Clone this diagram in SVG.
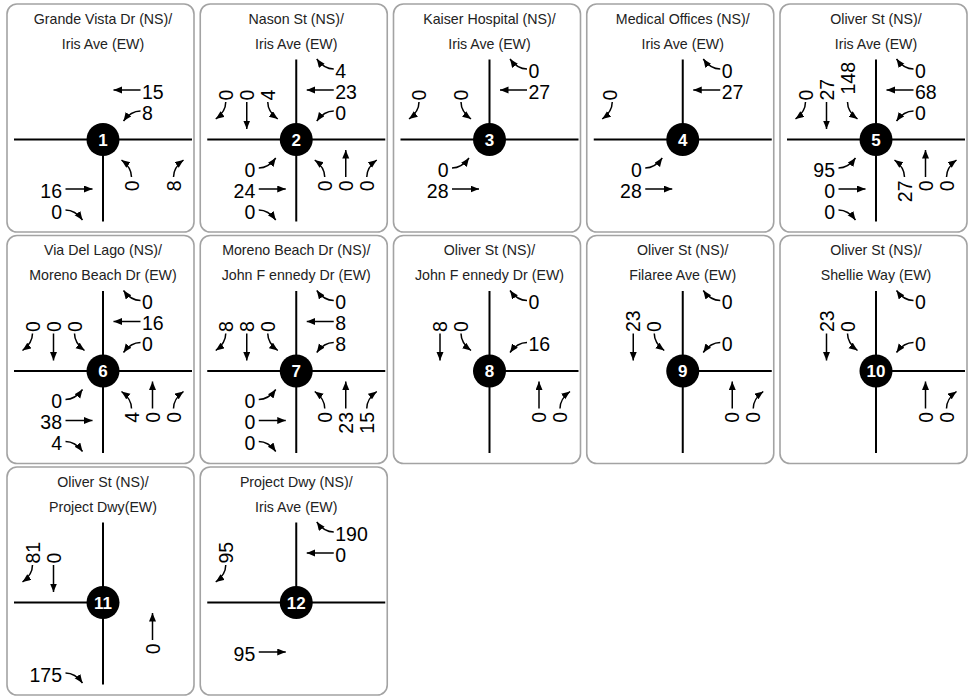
<svg xmlns="http://www.w3.org/2000/svg" width="968" height="696" viewBox="0 0 968 696">
  <style>
    .frame { fill: #fff; stroke: #a3a3a3; stroke-width: 1.6; }
    .road { fill: none; stroke: #000; stroke-width: 2; }
    .mv { fill: none; stroke: #000; stroke-width: 1.5; marker-end: url(#head); }
    .dot { fill: #000; }
    .num { font: bold 17px "Liberation Sans", Arial, sans-serif; fill: #fff; text-anchor: middle; }
    .ttl { font: 14.2px "Liberation Sans", Arial, sans-serif; fill: #222; text-anchor: middle; }
    .v { font: 19.5px "Liberation Sans", Arial, sans-serif; fill: #000; }
    .e { text-anchor: end; }
  </style>
  <defs>
    <marker id="head" markerUnits="userSpaceOnUse" markerWidth="10" markerHeight="8" refX="8.5" refY="3.5" orient="auto">
      <path d="M0,0 L8.5,3.5 L0,7 z" fill="#000"/>
    </marker>
    <!-- westbound movements, relative to the intersection centre; other approaches are rotations -->
    <path id="aR" class="mv" d="M37.5,-70.5 C31,-70.5 26,-73 20.5,-80.5"/>
    <path id="aT" class="mv" d="M37.5,-49.5 H10.5"/>
    <path id="aL" class="mv" d="M37.5,-28.5 C31,-28.5 26,-26 20.5,-18.5"/>
  </defs>

  <!-- 1 -->
  <g id="int1" transform="translate(7,4)">
    <rect class="frame" x="0" y="0" width="187" height="228" rx="10"/>
    <text class="ttl" x="96" y="19.5">Grande Vista Dr (NS)/</text>
    <text class="ttl" x="96" y="44.5">Iris Ave (EW)</text>
    <g transform="translate(96,135.5)">
      <path class="road" d="M-89,0 H89 M0,0 V82"/>
      <use href="#aT"/><use href="#aL"/>
      <use href="#aT" transform="rotate(180)"/><use href="#aR" transform="rotate(180)"/>
      <use href="#aL" transform="rotate(90)"/><use href="#aR" transform="rotate(90)"/>
      <text class="v" x="39" y="-41">15</text>
      <text class="v" x="39" y="-20">8</text>
      <text class="v e" x="-41" y="58">16</text>
      <text class="v e" x="-41" y="79">0</text>
      <text class="v e" transform="translate(35.5,41) rotate(-90)">0</text>
      <text class="v e" transform="translate(77.5,41) rotate(-90)">8</text>
      <circle class="dot" r="16.5"/>
      <text class="num" y="6">1</text>
    </g>
  </g>

  <!-- 2 -->
  <g id="int2" transform="translate(200.25,4)">
    <rect class="frame" x="0" y="0" width="187" height="228" rx="10"/>
    <text class="ttl" x="96" y="19.5">Nason St (NS)/</text>
    <text class="ttl" x="96" y="44.5">Iris Ave (EW)</text>
    <g transform="translate(96,135.5)">
      <path class="road" d="M-89,0 H89 M0,-80 V82"/>
      <use href="#aR"/><use href="#aT"/><use href="#aL"/>
      <use href="#aR" transform="rotate(-90)"/><use href="#aT" transform="rotate(-90)"/><use href="#aL" transform="rotate(-90)"/>
      <use href="#aR" transform="rotate(180)"/><use href="#aT" transform="rotate(180)"/><use href="#aL" transform="rotate(180)"/>
      <use href="#aR" transform="rotate(90)"/><use href="#aT" transform="rotate(90)"/><use href="#aL" transform="rotate(90)"/>
      <text class="v" x="39" y="-62">4</text>
      <text class="v" x="39" y="-41">23</text>
      <text class="v" x="39" y="-20">0</text>
      <text class="v" transform="translate(-63.5,-39) rotate(-90)">0</text>
      <text class="v" transform="translate(-42.5,-39) rotate(-90)">0</text>
      <text class="v" transform="translate(-21.5,-39) rotate(-90)">4</text>
      <text class="v e" x="-41" y="37">0</text>
      <text class="v e" x="-41" y="58">24</text>
      <text class="v e" x="-41" y="79">0</text>
      <text class="v e" transform="translate(35.5,41) rotate(-90)">0</text>
      <text class="v e" transform="translate(56.5,41) rotate(-90)">0</text>
      <text class="v e" transform="translate(77.5,41) rotate(-90)">0</text>
      <circle class="dot" r="16.5"/>
      <text class="num" y="6">2</text>
    </g>
  </g>

  <!-- 3 -->
  <g id="int3" transform="translate(393.5,4)">
    <rect class="frame" x="0" y="0" width="187" height="228" rx="10"/>
    <text class="ttl" x="96" y="19.5">Kaiser Hospital (NS)/</text>
    <text class="ttl" x="96" y="44.5">Iris Ave (EW)</text>
    <g transform="translate(96,135.5)">
      <path class="road" d="M-89,0 H89 M0,-80 V0"/>
      <use href="#aR"/><use href="#aT"/>
      <use href="#aR" transform="rotate(-90)"/><use href="#aL" transform="rotate(-90)"/>
      <use href="#aL" transform="rotate(180)"/><use href="#aT" transform="rotate(180)"/>
      <text class="v" x="39" y="-62">0</text>
      <text class="v" x="39" y="-41">27</text>
      <text class="v" transform="translate(-63.5,-39) rotate(-90)">0</text>
      <text class="v" transform="translate(-21.5,-39) rotate(-90)">0</text>
      <text class="v e" x="-41" y="37">0</text>
      <text class="v e" x="-41" y="58">28</text>
      <circle class="dot" r="16.5"/>
      <text class="num" y="6">3</text>
    </g>
  </g>

  <!-- 4 -->
  <g id="int4" transform="translate(586.75,4)">
    <rect class="frame" x="0" y="0" width="187" height="228" rx="10"/>
    <text class="ttl" x="96" y="19.5">Medical Offices (NS)/</text>
    <text class="ttl" x="96" y="44.5">Iris Ave (EW)</text>
    <g transform="translate(96,135.5)">
      <path class="road" d="M-89,0 H89 M0,-80 V0"/>
      <use href="#aR"/><use href="#aT"/>
      <use href="#aR" transform="rotate(-90)"/>
      <use href="#aL" transform="rotate(180)"/><use href="#aT" transform="rotate(180)"/>
      <text class="v" x="39" y="-62">0</text>
      <text class="v" x="39" y="-41">27</text>
      <text class="v" transform="translate(-65.5,-39) rotate(-90)">0</text>
      <text class="v e" x="-41" y="37">0</text>
      <text class="v e" x="-41" y="58">28</text>
      <circle class="dot" r="16.5"/>
      <text class="num" y="6">4</text>
    </g>
  </g>

  <!-- 5 -->
  <g id="int5" transform="translate(780,4)">
    <rect class="frame" x="0" y="0" width="187" height="228" rx="10"/>
    <text class="ttl" x="96" y="19.5">Oliver St (NS)/</text>
    <text class="ttl" x="96" y="44.5">Iris Ave (EW)</text>
    <g transform="translate(96,135.5)">
      <path class="road" d="M-89,0 H89 M0,-80 V82"/>
      <use href="#aR"/><use href="#aT"/><use href="#aL"/>
      <use href="#aR" transform="rotate(-90)"/><use href="#aT" transform="rotate(-90)"/><use href="#aL" transform="rotate(-90)"/>
      <use href="#aR" transform="rotate(180)"/><use href="#aT" transform="rotate(180)"/><use href="#aL" transform="rotate(180)"/>
      <use href="#aR" transform="rotate(90)"/><use href="#aT" transform="rotate(90)"/><use href="#aL" transform="rotate(90)"/>
      <text class="v" x="39" y="-62">0</text>
      <text class="v" x="39" y="-41">68</text>
      <text class="v" x="39" y="-20">0</text>
      <text class="v" transform="translate(-63.5,-39) rotate(-90)">0</text>
      <text class="v" transform="translate(-42.5,-39) rotate(-90)">27</text>
      <text class="v" transform="translate(-21.5,-45) rotate(-90)">148</text>
      <text class="v e" x="-41" y="37">95</text>
      <text class="v e" x="-41" y="58">0</text>
      <text class="v e" x="-41" y="79">0</text>
      <text class="v e" transform="translate(35.5,41) rotate(-90)">27</text>
      <text class="v e" transform="translate(56.5,41) rotate(-90)">0</text>
      <text class="v e" transform="translate(77.5,41) rotate(-90)">0</text>
      <circle class="dot" r="16.5"/>
      <text class="num" y="6">5</text>
    </g>
  </g>

  <!-- 6 -->
  <g id="int6" transform="translate(7,235.5)">
    <rect class="frame" x="0" y="0" width="187" height="228" rx="10"/>
    <text class="ttl" x="96" y="19.5">Via Del Lago (NS)/</text>
    <text class="ttl" x="96" y="44.5">Moreno Beach Dr (EW)</text>
    <g transform="translate(96,135.5)">
      <path class="road" d="M-89,0 H89 M0,-80 V82"/>
      <use href="#aR"/><use href="#aT"/><use href="#aL"/>
      <use href="#aR" transform="rotate(-90)"/><use href="#aT" transform="rotate(-90)"/><use href="#aL" transform="rotate(-90)"/>
      <use href="#aR" transform="rotate(180)"/><use href="#aT" transform="rotate(180)"/><use href="#aL" transform="rotate(180)"/>
      <use href="#aR" transform="rotate(90)"/><use href="#aT" transform="rotate(90)"/><use href="#aL" transform="rotate(90)"/>
      <text class="v" x="39" y="-62">0</text>
      <text class="v" x="39" y="-41">16</text>
      <text class="v" x="39" y="-20">0</text>
      <text class="v" transform="translate(-63.5,-39) rotate(-90)">0</text>
      <text class="v" transform="translate(-42.5,-39) rotate(-90)">0</text>
      <text class="v" transform="translate(-21.5,-39) rotate(-90)">0</text>
      <text class="v e" x="-41" y="37">0</text>
      <text class="v e" x="-41" y="58">38</text>
      <text class="v e" x="-41" y="79">4</text>
      <text class="v e" transform="translate(35.5,41) rotate(-90)">4</text>
      <text class="v e" transform="translate(56.5,41) rotate(-90)">0</text>
      <text class="v e" transform="translate(77.5,41) rotate(-90)">0</text>
      <circle class="dot" r="16.5"/>
      <text class="num" y="6">6</text>
    </g>
  </g>

  <!-- 7 -->
  <g id="int7" transform="translate(200.25,235.5)">
    <rect class="frame" x="0" y="0" width="187" height="228" rx="10"/>
    <text class="ttl" x="96" y="19.5">Moreno Beach Dr (NS)/</text>
    <text class="ttl" x="96" y="44.5">John F ennedy Dr (EW)</text>
    <g transform="translate(96,135.5)">
      <path class="road" d="M-89,0 H89 M0,-80 V82"/>
      <use href="#aR"/><use href="#aT"/><use href="#aL"/>
      <use href="#aR" transform="rotate(-90)"/><use href="#aT" transform="rotate(-90)"/><use href="#aL" transform="rotate(-90)"/>
      <use href="#aR" transform="rotate(180)"/><use href="#aT" transform="rotate(180)"/><use href="#aL" transform="rotate(180)"/>
      <use href="#aR" transform="rotate(90)"/><use href="#aT" transform="rotate(90)"/><use href="#aL" transform="rotate(90)"/>
      <text class="v" x="39" y="-62">0</text>
      <text class="v" x="39" y="-41">8</text>
      <text class="v" x="39" y="-20">8</text>
      <text class="v" transform="translate(-63.5,-39) rotate(-90)">8</text>
      <text class="v" transform="translate(-42.5,-39) rotate(-90)">8</text>
      <text class="v" transform="translate(-21.5,-39) rotate(-90)">0</text>
      <text class="v e" x="-41" y="37">0</text>
      <text class="v e" x="-41" y="58">0</text>
      <text class="v e" x="-41" y="79">0</text>
      <text class="v e" transform="translate(35.5,41) rotate(-90)">0</text>
      <text class="v e" transform="translate(56.5,41) rotate(-90)">23</text>
      <text class="v e" transform="translate(77.5,41) rotate(-90)">15</text>
      <circle class="dot" r="16.5"/>
      <text class="num" y="6">7</text>
    </g>
  </g>

  <!-- 8 -->
  <g id="int8" transform="translate(393.5,235.5)">
    <rect class="frame" x="0" y="0" width="187" height="228" rx="10"/>
    <text class="ttl" x="96" y="19.5">Oliver St (NS)/</text>
    <text class="ttl" x="96" y="44.5">John F ennedy Dr (EW)</text>
    <g transform="translate(96,135.5)">
      <path class="road" d="M0,0 H89 M0,-80 V82"/>
      <use href="#aR"/><use href="#aL"/>
      <use href="#aT" transform="rotate(-90)"/><use href="#aL" transform="rotate(-90)"/>
      <use href="#aT" transform="rotate(90)"/><use href="#aR" transform="rotate(90)"/>
      <text class="v" x="39" y="-62">0</text>
      <text class="v" x="39" y="-20">16</text>
      <text class="v" transform="translate(-42.5,-39) rotate(-90)">8</text>
      <text class="v" transform="translate(-21.5,-39) rotate(-90)">0</text>
      <text class="v e" transform="translate(56.5,41) rotate(-90)">0</text>
      <text class="v e" transform="translate(77.5,41) rotate(-90)">0</text>
      <circle class="dot" r="16.5"/>
      <text class="num" y="6">8</text>
    </g>
  </g>

  <!-- 9 -->
  <g id="int9" transform="translate(586.75,235.5)">
    <rect class="frame" x="0" y="0" width="187" height="228" rx="10"/>
    <text class="ttl" x="96" y="19.5">Oliver St (NS)/</text>
    <text class="ttl" x="96" y="44.5">Filaree Ave (EW)</text>
    <g transform="translate(96,135.5)">
      <path class="road" d="M0,0 H89 M0,-80 V82"/>
      <use href="#aR"/><use href="#aL"/>
      <use href="#aT" transform="rotate(-90)"/><use href="#aL" transform="rotate(-90)"/>
      <use href="#aT" transform="rotate(90)"/><use href="#aR" transform="rotate(90)"/>
      <text class="v" x="39" y="-62">0</text>
      <text class="v" x="39" y="-20">0</text>
      <text class="v" transform="translate(-42.5,-39) rotate(-90)">23</text>
      <text class="v" transform="translate(-21.5,-39) rotate(-90)">0</text>
      <text class="v e" transform="translate(56.5,41) rotate(-90)">0</text>
      <text class="v e" transform="translate(77.5,41) rotate(-90)">0</text>
      <circle class="dot" r="16.5"/>
      <text class="num" y="6">9</text>
    </g>
  </g>

  <!-- 10 -->
  <g id="int10" transform="translate(780,235.5)">
    <rect class="frame" x="0" y="0" width="187" height="228" rx="10"/>
    <text class="ttl" x="96" y="19.5">Oliver St (NS)/</text>
    <text class="ttl" x="96" y="44.5">Shellie Way (EW)</text>
    <g transform="translate(96,135.5)">
      <path class="road" d="M0,0 H89 M0,-80 V82"/>
      <use href="#aR"/><use href="#aL"/>
      <use href="#aT" transform="rotate(-90)"/><use href="#aL" transform="rotate(-90)"/>
      <use href="#aT" transform="rotate(90)"/><use href="#aR" transform="rotate(90)"/>
      <text class="v" x="39" y="-62">0</text>
      <text class="v" x="39" y="-20">0</text>
      <text class="v" transform="translate(-42.5,-39) rotate(-90)">23</text>
      <text class="v" transform="translate(-21.5,-39) rotate(-90)">0</text>
      <text class="v e" transform="translate(56.5,41) rotate(-90)">0</text>
      <text class="v e" transform="translate(77.5,41) rotate(-90)">0</text>
      <circle class="dot" r="16.5"/>
      <text class="num" y="6">10</text>
    </g>
  </g>

  <!-- 11 -->
  <g id="int11" transform="translate(7,467)">
    <rect class="frame" x="0" y="0" width="187" height="228" rx="10"/>
    <text class="ttl" x="96" y="19.5">Oliver St (NS)/</text>
    <text class="ttl" x="96" y="44.5">Project Dwy(EW)</text>
    <g transform="translate(96,135.5)">
      <path class="road" d="M-89,0 H0 M0,-80 V82"/>
      <use href="#aR" transform="rotate(-90)"/><use href="#aT" transform="rotate(-90)"/>
      <use href="#aR" transform="rotate(180)"/>
      <use href="#aT" transform="rotate(90)"/>
      <text class="v" transform="translate(-63.5,-39) rotate(-90)">81</text>
      <text class="v" transform="translate(-42.5,-39) rotate(-90)">0</text>
      <text class="v e" x="-41" y="79">175</text>
      <text class="v e" transform="translate(56.5,41) rotate(-90)">0</text>
      <circle class="dot" r="16.5"/>
      <text class="num" y="6">11</text>
    </g>
  </g>

  <!-- 12 -->
  <g id="int12" transform="translate(200.25,467)">
    <rect class="frame" x="0" y="0" width="187" height="228" rx="10"/>
    <text class="ttl" x="96" y="19.5">Project Dwy (NS)/</text>
    <text class="ttl" x="96" y="44.5">Iris Ave (EW)</text>
    <g transform="translate(96,135.5)">
      <path class="road" d="M-89,0 H89 M0,-80 V0"/>
      <use href="#aR"/><use href="#aT"/>
      <use href="#aR" transform="rotate(-90)"/>
      <use href="#aT" transform="rotate(180)"/>
      <text class="v" x="39" y="-62">190</text>
      <text class="v" x="39" y="-41">0</text>
      <text class="v" transform="translate(-63.5,-39) rotate(-90)">95</text>
      <text class="v e" x="-41" y="58">95</text>
      <circle class="dot" r="16.5"/>
      <text class="num" y="6">12</text>
    </g>
  </g>
</svg>
